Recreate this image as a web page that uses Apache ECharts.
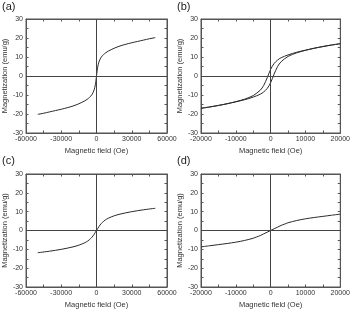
<!DOCTYPE html>
<html><head><meta charset="utf-8">
<script src="https://cdn.jsdelivr.net/npm/echarts@6/dist/echarts.min.js"></script>
<style>html,body{margin:0;padding:0;background:#fff}#c{width:353px;height:313px}</style>
</head><body><div id="c"></div>
<script>
// Panel (a)
const fieldA = [-50000,-45000,-40000,-35000,-30000,-25000,-20000,-15000,-10000,-8000,-6000,-4000,-3000,-2000,-1500,-1000,-500,0,500,1000,1500,2000,3000,4000,6000,8000,10000,15000,20000,25000,30000,35000,40000,45000,50000];
const magA = [-20.2,-19.6,-18.9,-18.2,-17.5,-16.7,-15.8,-14.6,-13.1,-12.3,-11.3,-9.9,-8.8,-7.3,-6.2,-4.6,-2.5,0,2.5,4.6,6.2,7.3,8.8,9.9,11.3,12.3,13.1,14.6,15.8,16.7,17.5,18.2,18.9,19.6,20.2];
// Panel (b): hysteresis loop, two branches
const fieldB = [-20000,-17500,-15000,-12500,-10000,-7500,-5000,-3000,-2000,-1000,0,1000,2000,3000,5000,7500,10000,12500,15000,17500,20000];
const magBUpper = [-17.0,-16.3,-15.5,-14.6,-13.5,-12.2,-10.3,-7.5,-5.0,-1.0,3.5,6.6,8.4,9.6,11.1,12.5,13.6,14.6,15.5,16.3,17.0];
const magBLower = [-17.0,-16.3,-15.5,-14.6,-13.6,-12.5,-11.1,-9.6,-8.4,-6.6,-3.5,1.0,5.0,7.5,10.3,12.2,13.5,14.6,15.5,16.3,17.0];
// Panel (c)
const fieldC = [-50000,-40000,-30000,-20000,-15000,-10000,-7500,-5000,-3000,-2000,-1000,0,1000,2000,3000,5000,7500,10000,15000,20000,30000,40000,50000];
const magC = [-11.8,-11.0,-10.0,-8.7,-7.8,-6.5,-5.6,-4.3,-2.9,-2.0,-1.0,0,1.0,2.0,2.9,4.3,5.6,6.5,7.8,8.7,10.0,11.0,11.8];
// Panel (d)
const fieldD = [-20000,-17500,-15000,-12500,-10000,-7500,-5000,-4000,-3000,-2000,-1000,0,1000,2000,3000,4000,5000,7500,10000,12500,15000,17500,20000];
const magD = [-8.7,-8.1,-7.5,-6.9,-6.2,-5.3,-4.1,-3.4,-2.7,-1.8,-0.9,0,0.9,1.8,2.7,3.4,4.1,5.3,6.2,6.9,7.5,8.1,8.7];
// Axes
const xRangeWide = [-60000, 60000, 30000];
const xRangeNarrow = [-20000, 20000, 10000];
const yRange = [-30, 30, 10];
const panelLabels = ['(a)','(b)','(c)','(d)'];
const xTitle = 'Magnetic field (Oe)';
const yTitle = 'Magnetization (emu/g)';

const FONT = 'Liberation Sans, Arial, sans-serif';
const AX = '#555';
const grids = [
  {left:26, top:19, width:141, height:114},
  {left:201, top:19, width:142, height:114},
  {left:26, top:174, width:141, height:113},
  {left:201, top:174, width:142, height:113}
];
const xr = [xRangeWide, xRangeNarrow, xRangeWide, xRangeNarrow];
const xAxis = [], yAxis = [], series = [];
const plain = v => String(v);
grids.forEach((g,i)=>{
  g.show = true; g.borderColor = AX; g.borderWidth = 1; g.containLabel=false;
  const base = {type:'value', gridIndex:i, splitLine:{show:false},
    axisLine:{show:true, onZero:false, lineStyle:{color:AX, width:1}},
    axisTick:{show:true, inside:true, length:2.5, lineStyle:{color:AX}},
    minorTick:{show:true, splitNumber:2, length:2.5, lineStyle:{color:AX}},
  };
  xAxis.push(Object.assign({}, base, {position:'bottom', min:xr[i][0], max:xr[i][1], interval:xr[i][2],
    axisLabel:{fontSize:7, color:'#333', fontFamily:FONT, margin:3, showMinLabel:true, showMaxLabel:true, formatter:plain},
    name:xTitle, nameLocation:'middle', nameGap:14, nameTextStyle:{fontSize:7.5, color:'#333', fontFamily:FONT}}));
  xAxis.push(Object.assign({}, base, {position:'top', min:xr[i][0], max:xr[i][1], interval:xr[i][2], axisLabel:{show:false}}));
  yAxis.push(Object.assign({}, base, {position:'left', min:yRange[0], max:yRange[1], interval:yRange[2],
    axisLabel:{fontSize:7, color:'#333', fontFamily:FONT, margin:3, formatter:plain},
    name:yTitle, nameLocation:'middle', nameGap:17, nameTextStyle:{fontSize:7.5, color:'#333', fontFamily:FONT}}));
  yAxis.push(Object.assign({}, base, {position:'right', min:yRange[0], max:yRange[1], interval:yRange[2], axisLabel:{show:false}}));
});
function zip(a,b){return a.map((v,k)=>[v,b[k]]);}
const lineStyle = {color:'#2a2a2a', width:1};
const cross = {silent:true, symbol:'none', label:{show:false}, lineStyle:{color:'#444', width:1, type:'solid'}, data:[{xAxis:0},{yAxis:0}], animation:false};
const sets = [[zip(fieldA,magA)], [zip(fieldB,magBUpper), zip(fieldB,magBLower)], [zip(fieldC,magC)], [zip(fieldD,magD)]];
sets.forEach((arrs,i)=>{
  arrs.forEach((d,j)=>{
    series.push({type:'line', xAxisIndex:2*i, yAxisIndex:2*i, data:d, smooth:0.3, showSymbol:false, lineStyle:lineStyle, animation:false, silent:true,
      markLine: j===0 ? cross : undefined});
  });
});
const graphic = panelLabels.map((t,i)=>({type:'text', left: i%2===0 ? 2 : 177, top: i<2 ? 1 : 155,
  style:{text:t, fontSize:11, fill:'#222', fontFamily:FONT}}));
const chart = echarts.init(document.getElementById('c'), null, {renderer:'canvas'});
chart.setOption({animation:false, grid:grids, xAxis:xAxis, yAxis:yAxis, series:series, graphic:graphic});
</script></body></html>
